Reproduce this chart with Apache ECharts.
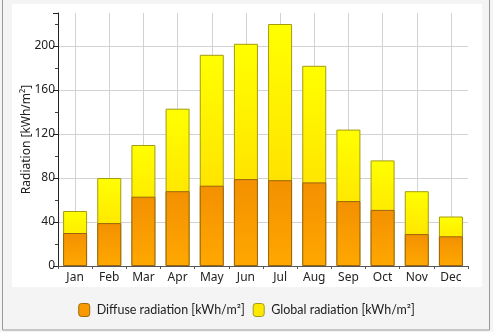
<!DOCTYPE html>
<html>
<head>
<meta charset="utf-8">
<script src="https://cdn.jsdelivr.net/npm/echarts@6/dist/echarts.min.js"></script>
<style>
html,body{margin:0;padding:0;background:#f4f4f4;}
#c{width:493px;height:332px;}
</style>
</head>
<body>
<div id="c"></div>
<script>
const months = ['Jan','Feb','Mar','Apr','May','Jun','Jul','Aug','Sep','Oct','Nov','Dec'];
const diffuse = [30, 39, 63, 68, 73, 79, 78, 76, 59, 51, 29, 27];
const globalRad = [50, 80, 110, 143, 192, 202, 220, 182, 124, 96, 68, 45];
const yTicks = [0, 40, 80, 120, 160, 200];

const chart = echarts.init(document.getElementById('c'));
const font = '"Noto Sans", "Open Sans", sans-serif';
const legendFont = 'Lato, "Noto Sans", sans-serif';
chart.setOption({
  backgroundColor: '#f4f4f4',
  animation: false,
  textStyle: {fontFamily: font},
  graphic: [
    {type: 'rect', z: -10, shape: {x: 2.5, y: -5, width: 487, height: 335}, style: {fill: '#f4f4f4', stroke: '#9a9a9a', lineWidth: 1}},
    {type: 'rect', z: -9, shape: {x: 12, y: 4, width: 470, height: 283}, style: {fill: '#ffffff'}}
  ],
  grid: {left: 58, right: 25, top: 13, bottom: 66, containLabel: false},
  legend: {
    bottom: 10,
    left: 'center',
    itemWidth: 11,
    itemHeight: 13,
    itemGap: 8,
    icon: 'roundRect',
    textStyle: {fontSize: 12.5, color: '#222', fontFamily: legendFont, padding: [0, 0, 0, 2]},
    data: [
      {name: 'Diffuse radiation [kWh/m²]', itemStyle: {color: '#f99a00', borderColor: '#9a6a10', borderWidth: 1}},
      {name: 'Global radiation [kWh/m²]', itemStyle: {color: '#ffe800', borderColor: '#a09a20', borderWidth: 1}}
    ]
  },
  xAxis: {
    type: 'category',
    data: months,
    axisLine: {lineStyle: {color: '#555', width: 1}},
    axisTick: {show: true, length: 3, lineStyle: {color: '#555'}},
    axisLabel: {color: '#222', fontSize: 12, margin: 6, fontFamily: font},
    splitLine: {show: true, alignWithLabel: true, lineStyle: {color: '#d2d2d2', width: 1}}
  },
  yAxis: {
    type: 'value',
    min: 0,
    max: 230,
    interval: 40,
    name: 'Radiation [kWh/m²]',
    nameLocation: 'middle',
    nameGap: 25,
    nameMoveOverlap: false,
    nameTextStyle: {color: '#222', fontSize: 12, fontFamily: font},
    axisLine: {show: true, lineStyle: {color: '#222', width: 1}},
    axisTick: {show: true, length: 5, lineStyle: {color: '#222'}},
    minorTick: {show: true, splitNumber: 2, length: 3, lineStyle: {color: '#444'}},
    axisLabel: {color: '#222', fontSize: 12, margin: 3, showMaxLabel: false, fontFamily: font,
      formatter: v => yTicks.includes(v) ? String(v) : ''},
    splitLine: {show: true, showMaxLine: false, lineStyle: {color: '#d2d2d2', width: 1}}
  },
  series: [
    {
      name: 'Global radiation [kWh/m²]',
      type: 'bar',
      data: globalRad,
      barWidth: 24,
      barGap: '-100%',
      z: 2,
      itemStyle: {
        color: new echarts.graphic.LinearGradient(0, 0, 0, 1, [
          {offset: 0, color: '#ffff00'}, {offset: 1, color: '#ffd400'}
        ]),
        borderColor: '#a39c10', borderWidth: 1
      }
    },
    {
      name: 'Diffuse radiation [kWh/m²]',
      type: 'bar',
      data: diffuse,
      barWidth: 24,
      barGap: '-100%',
      z: 3,
      itemStyle: {
        color: new echarts.graphic.LinearGradient(0, 0, 0, 1, [
          {offset: 0, color: '#f39000'}, {offset: 1, color: '#ffa800'}
        ]),
        borderColor: '#9a6410', borderWidth: 1
      }
    }
  ]
});
</script>
</body>
</html>
